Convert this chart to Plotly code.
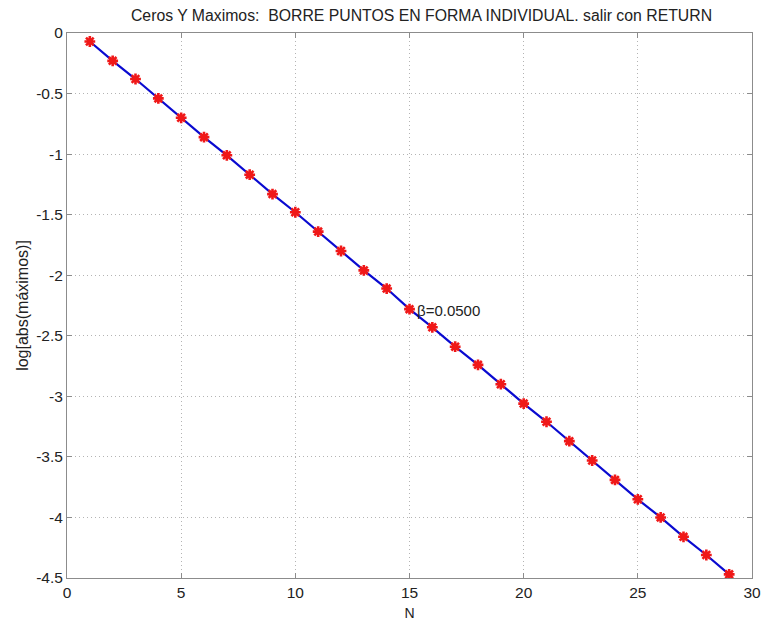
import plotly.graph_objects as go

# Peak index and log of the absolute peak amplitude
n_peaks = list(range(1, 30))
log_max = [-0.07, -0.23, -0.38, -0.54, -0.70, -0.86, -1.01, -1.17, -1.33, -1.48,
           -1.64, -1.80, -1.96, -2.11, -2.28, -2.43, -2.59, -2.74, -2.90, -3.06,
           -3.21, -3.37, -3.53, -3.69, -3.85, -4.00, -4.16, -4.31, -4.47]

x_ticks = [0, 5, 10, 15, 20, 25, 30]
y_ticks = [0, -0.5, -1, -1.5, -2, -2.5, -3, -3.5, -4, -4.5]
y_tick_text = ["0", "-0.5", "-1", "-1.5", "-2", "-2.5", "-3", "-3.5", "-4", "-4.5"]

beta_label = "β=0.0500"
beta_pos = (15, -2.29)

FONT = "Liberation Sans, Arial, sans-serif"
TXT = "#222222"

fig = go.Figure()

# fitted line through the peaks
fig.add_trace(go.Scatter(
    x=n_peaks, y=log_max, mode="lines",
    line=dict(color="#0a0ad0", width=2.2),
    hoverinfo="skip", showlegend=False,
))
# the peak markers
fig.add_trace(go.Scatter(
    x=n_peaks, y=log_max, mode="markers",
    marker=dict(symbol="asterisk-open", size=9, color="#f01818",
                line=dict(color="#f01818", width=2.6)),
    showlegend=False,
))

fig.add_annotation(
    x=beta_pos[0], y=beta_pos[1], text=beta_label, showarrow=False,
    xanchor="left", yanchor="middle", xshift=5,
    font=dict(family=FONT, size=15, color=TXT),
)

axis_common = dict(
    showline=True, linecolor="#8c8c8c", linewidth=1, mirror="ticks",
    ticks="inside", ticklen=5, tickcolor="#8c8c8c",
    showgrid=True, gridcolor="#b4b4b4", griddash="1px,3px", gridwidth=1,
    zeroline=False, automargin=False,
    tickfont=dict(family=FONT, size=15.5, color=TXT),
)

fig.update_xaxes(
    range=[0, 30], tickvals=x_ticks, ticktext=[str(v) for v in x_ticks],
    title=dict(text="N", font=dict(family=FONT, size=14, color=TXT),
               standoff=8),
    **axis_common,
)
fig.update_yaxes(
    range=[-4.5, 0], tickvals=y_ticks, ticktext=y_tick_text,
    title=dict(text="log[abs(máximos)]",
               font=dict(family=FONT, size=16, color=TXT), standoff=3),
    **axis_common,
)

fig.update_layout(
    width=772, height=623,
    margin=dict(l=67, r=20, t=33, b=45),
    paper_bgcolor="white", plot_bgcolor="white",
    title=dict(text="Ceros Y Maximos:  BORRE PUNTOS EN FORMA INDIVIDUAL. salir con RETURN",
               x=0.546, xanchor="center", y=0.975, yanchor="middle",
               font=dict(family=FONT, size=15.8, color=TXT)),
)

fig.write_html("out.html")
